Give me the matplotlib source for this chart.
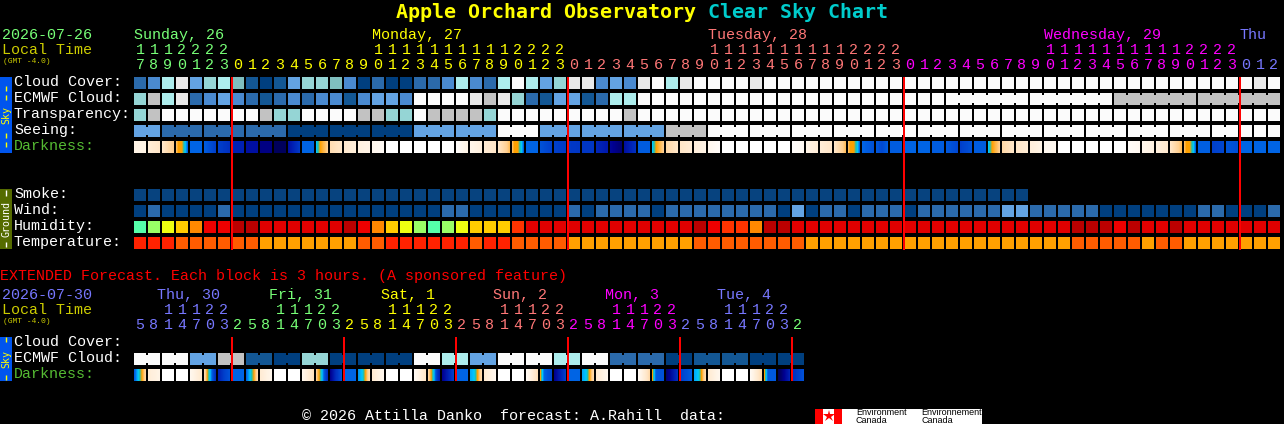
import matplotlib
matplotlib.use("Agg")
import matplotlib.pyplot as plt
from matplotlib.colors import LinearSegmentedColormap
from matplotlib.patches import Rectangle
import numpy as np

# ---------- data ----------
cloud = [2,3,7,9,4,6,7,5,1,0,1,4,6,6,5,3,0,2,0,0,2,2,3,7,3,2,7,10,7,4,6,9,9,3,4,3,9,10,7,9,10,10,10,10,9,
         10,10,10,10,10,10,10,10,10,10,10,10,10,10,10,10,10,10,10,10,10,10,10,10,10,10,10,10,10,10,10,10,10,10,10,9,10]
ecmwf = [6,8,7,9,2,3,4,3,2,1,2,3,2,3,3,1,3,4,4,3,10,10,10,10,9,8,9,6,2,1,4,4,1,2,7,7,10,
         10,10,10,10,10,10,10,10,10,10,10,10,10,10,10,10,10,10,10,10,10,10,10,10,10,10,10,10,10,10,10,10,10,
         8,8,8,8,8,8,8,8,8,8,8,8]
transparency = [6,8,10,10,10,10,10,10,10,8,6,6,10,10,10,10,8,8,6,6,10,8,8,8,8,6,10,10,10,10,10,10,10,10,10,8,
                10,10,10,10,10,10,10,10,10,10,10,10,10,10,10,10,10,10,10,10,10,10,10,10,10,10,10,10,10,10,10,10,10,
                10,10,10,10,10,10,10,10,10,10,10,10,10]
seeing = [4,4,2,2,2,2,2,2,2,2,2,0,0,0,0,0,0,0,0,0,4,4,4,4,4,4,10,10,10,4,4,4,4,4,4,4,4,4,8,8,8,
          10,10,10,10,10,10,10,10,10,10,10,10,10,10,10,10,10,10,10,10,10,10,10,10,10,10,10,10,10,10,10,10,10,10,10,10,10,10,10,10,10]
seeing_groups = [2,3,3,3,3,3,3,3,3,3,3,3,3,3,3,3,3,3,3,3,3,3,3,3,3,3,2]
ecmwf_groups = [1]*58 + [6,6,6,6]
darkness = [(1,1),(1.5,2),(2,3),(3.3,3.8,3.8,3.8,4.5,5.2,6),(6,),(6.2,7),(7,7.5),(8,8),(8.5,),(9.2,),(9.8,),(8.5,7.2),(6,),(5,3.8,3.4,3),(2.4,2),(1.8,1.4),(1.2,1),(.7,.4),
            (0,),(0,),(0,),(0,),(0,),(.2,1),(.8,1.3),(1.6,2),(2,3.3),(3.3,3.8,3.8,3.8,4.5,5,6),(6,),(6.5,7),(7,7.2),(7.2,7.3),(7.3,),(7.8,8.2),(8.8,9.5),(8.5,7.5),(6.2,),
            (5,3.8,3.4,3),(2.6,2),(2,1.6),(1.4,1),(.7,.3),(0,),(0,),(0,),(0,),(0,),(.2,.5),(1,1.5),(1.5,2),(2,3.3),(3.3,3.8,3.8,3.8,4.5,5,6),
            (6,6.5),(6.3,6.8,6.2),(6.2,),(6,),(6,),(6.2,),(6.3,6.8),(7,6.5),(6.2,),(5,3.8,3.4,3),(2.6,2),(2,1.6),(1.4,1),(.6,),
            (0,),(0,),(0,),(0,),(0,),(.3,.6),(.8,1.2),(1.3,1.8),(2,3.3),(3.3,3.8,3.8,3.8,4.5,5,6),(6.1,),(7,6.8),(6.4,6.6),(6,),(6,),(6,)]
smoke = [0]*64
wind = [0,1,0,0,0,0,1,0,0,0,0,0,0,0,0,0,0,0,0,0,0,0,1,1,0,0,0,0,0,0,0,1,0,1,1,1,1,0,1,1,1,1,1,1,1,1,0,2,0,1,1,0,
        1,1,1,0,1,1,1,1,1,1,2,2,1,1,1,1,1,0,0,0,0,0,0,0,1,1,0,0,0,1]
humidity = [0,1,2,3,4,6,6,8,8,7,7,7,7,7,7,8,6,4,3,2,1,0,1,2,3,3,3,5,7,7,7,7,7,7,7,7,7,7,7,7,8,6,5,5,4,8,8,7,7,7,7,7,
            7,7,7,7,7,7,7,7,7,7,7,7,7,7,7,8,8,8,6,8,7,7,8,7,7,7,7,7,7,7]
temperature = [0,0,0,1,1,1,1,1,1,2,2,2,2,2,2,2,1,1,0,0,0,0,0,0,1,0,0,1,1,1,1,2,2,2,2,2,2,2,2,2,1,1,1,1,1,1,1,1,2,2,2,2,
               2,2,2,2,2,2,2,2,2,2,2,2,2,2,2,1,1,1,1,1,2,1,1,2,2,2,2,2,2,2]
ext_ecmwf = [10,10,10,10,4,4,8,8,1,1,0,0,6,6,0,0,0,0,0,0,10,10,7,7,4,4,10,10,10,10,7,7,10,10,2,2,2,2,0,0,1,1,1,1,0,0,0,0]
ext_groups = [2]*24
ext_darkness = [(6.2,5,3.8,2.8),(1.5,1),(0,),(0,),(.7,1.8),(2.5,3.8,5,6.5,7.5),(8,7,6.5),(6,),(6,5,3.8,2.5),(1.6,.8),(0,),(0,),(.8,2.2),(3,3.8,5,6.5,7.5),(9,7.5,6.5),(6,),
                (5.5,5,3.6,2.5),(1.7,.7),(0,),(0,),(.5,2),(2.8,3.8,5,7,8),(9,8,7),(6,),(5.3,5,3.7,2.5),(1.7,.7),(0,),(0,),(.5,2.3),(3.8,6,6.5,6.7),(9,8,7),(6,),
                (5.3,5,3.7,2.5),(1.7,.7),(0,),(0,),(.5,2.5),(3.8,6.3,6.5,6.5),(9.5,8.5,7.5),(7,6.2),(5.3,5,3.7,2.5),(1.7,.7),(0,),(0,),(.5,2.5),(3.8,6.3,6.3,6.3),(10,9,8),(7.5,7,6.5)]

main_tens = ["1","1","1","2","2","2","2"] + ([""]*10 + ["1"]*10 + ["2"]*4)*3 + ["","",""]
main_ones = ["7","8","9","0","1","2","3"] + list("012345678901234567890123")*3 + ["0","1","2"]
ext_tens = ["","","1","1","1","2","2"] + ["","","","1","1","1","2","2"]*5 + [""]
ext_ones = list("5814703") + list("25814703")*5 + ["2"]
day_labels = ["Sunday, 26","Monday, 27","Tuesday, 28","Wednesday, 29","Thu"]
day_cols = [0,17,41,65,79]
ext_day_labels = ["Thu, 30","Fri, 31","Sat, 1","Sun, 2","Mon, 3","Tue, 4"]

# ---------- styles ----------
CLOUD_C = ["#003F7F","#135794","#2B6AAB","#4A8AD0","#63A3E3","#7FBFBF","#95D5D5","#ADEDED","#C2C2C2","#E9E9E9","#FBFBFB"]
HUM_C = ["#55FFAA","#99FF66","#EEFF11","#FFCC00","#FF8800","#FF3300","#EE0000","#E00000","#BB0000"]
TEMP_C = ["#FF2200","#FF5C00","#FFA000"]
GREEN,YEL,PINK,MAG,BLUE = "#77FF77","#FFFF00","#FF7777","#FF00FF","#7777FF"
dark_cmap = LinearSegmentedColormap.from_list("dark",[(0,"#FFFFFF"),(.1,"#FFF4E6"),(.2,"#FFE6C8"),(.3,"#FFCF90"),(.38,"#FFA000"),
    (.45,"#20C0B0"),(.5,"#00C8FF"),(.6,"#0064E4"),(.7,"#0040CC"),(.8,"#0020B4"),(.9,"#000090"),(1,"#000050")])
MONO = "Liberation Mono"
BOLD = "DejaVu Sans Mono"
PX = 72/100

fig = plt.figure(figsize=(12.84,4.24),dpi=100,facecolor="black")
ax = fig.add_axes([0,0,1,1])
ax.set_xlim(0,1284); ax.set_ylim(424,0); ax.axis("off")

X0,P,W,H = 134,14,12,12

def row(vals,colors,top,groups=None):
    x = [X0+P*i for i in range(len(vals))]
    ax.bar(x,[H]*len(vals),width=W,bottom=top,align="edge",color=[colors[v] for v in vals],linewidth=0,zorder=2,antialiased=False)
    if groups:
        pos = 0
        for g in groups:
            for j in range(pos,pos+g-1):
                ax.bar(X0+P*j+W,8,width=P-W,bottom=top+2,align="edge",color=colors[vals[j]],linewidth=0,zorder=2,antialiased=False)
            pos += g

def gradient_row(vals,top):
    for i,v in enumerate(vals):
        band = np.interp(np.linspace(0,1,W),np.linspace(0,1,len(v)),v) if len(v)>1 else np.full(W,v[0])
        ax.imshow(band.reshape(1,-1),cmap=dark_cmap,vmin=0,vmax=10,aspect="auto",
                  extent=(X0+P*i,X0+P*i+W,top+H,top),interpolation="nearest",zorder=2)

def t(x,y,s,c="white",size=15,weight="normal",ha="left",rot=0,va="baseline",fam=MONO):
    if fam == MONO and va == "baseline":
        y = y-1
    ax.text(x,y,s,color=c,fontsize=size*PX,fontweight=weight,ha=ha,va=va,rotation=rot,family=fam,zorder=5)

# title
t(396,18,"Apple Orchard Observatory",YEL,20,"bold",fam=BOLD)
t(708,18,"Clear Sky Chart","#00CCCC",20,"bold",fam=BOLD)

# header
t(2,40,"2026-07-26",GREEN); t(2,55,"Local Time","#CCCC00"); t(3,64,"(GMT -4.0)","#CCCC00",8)
for lab,col,c in zip(day_labels,day_cols,[GREEN,YEL,PINK,MAG,BLUE]):
    t(X0+P*col,40,lab,c)
def col_color(k):
    return [GREEN,YEL,PINK,MAG,BLUE][(k+17)//24]
for k,(a,b) in enumerate(zip(main_tens,main_ones)):
    c = col_color(k)
    if a: t(X0+P*k+6,55,a,c,ha="center")
    t(X0+P*k+6,70,b,c,ha="center")

# sidebars
def side(y0,y1,color,label,tc,dashes):
    ax.add_patch(Rectangle((0,y0),12,y1-y0,color=color,linewidth=0,zorder=2))
    t(6,(y0+y1)/2,label,tc,10,rot=90,ha="center",va="center",fam=BOLD)
    for d in dashes:
        ax.plot([5.5,5.5],d,color=tc,lw=1,solid_capstyle="butt",zorder=5)
side(77,153,"#0055EE","Sky",YEL,[(86,91),(95,100),(133,138),(142,147)])
side(189,249,"#556B00","Ground","white",[(190,196),(242,247)])
side(337,381,"#0055EE","Sky",YEL,[(337,342),(375,380)])

# main rows
for lab,top,c in [("Cloud Cover:",77,"white"),("ECMWF Cloud:",93,"white"),("Transparency:",109,"white"),("Seeing:",125,"white"),
                  ("Darkness:",141,"#55BB33"),("Smoke:",189,"white"),("Wind:",205,"white"),("Humidity:",221,"white"),("Temperature:",237,"white")]:
    t(14,top+10,lab,c)
row(cloud,CLOUD_C,77)
row(ecmwf,CLOUD_C,93,ecmwf_groups)
row(transparency,CLOUD_C,109)
row(seeing,CLOUD_C,125,seeing_groups)
gradient_row(darkness,141)
row(smoke,["#07437F"],189)
row(wind,[CLOUD_C[0],CLOUD_C[2],CLOUD_C[4]],205)
row(humidity,HUM_C,221)
row(temperature,TEMP_C,237)
ax.vlines([232+336*i for i in range(4)],77,250,color="#FF0000",lw=2*PX,zorder=4)

# extended
t(0,281,"EXTENDED Forecast. Each block is 3 hours. (A sponsored feature)","#FF0000")
t(2,300,"2026-07-30",BLUE); t(2,315,"Local Time","#CCCC00"); t(3,324,"(GMT -4.0)","#CCCC00",8)
ext_colors = [BLUE,GREEN,YEL,PINK,MAG,BLUE]
for i,(lab,c) in enumerate(zip(ext_day_labels,ext_colors)):
    t(157+112*i,300,lab,c)
def ext_color(k):
    return ([BLUE]*7+[GREEN]*8+[YEL]*8+[PINK]*8+[MAG]*8+[BLUE]*8+[GREEN])[k]
for k,(a,b) in enumerate(zip(ext_tens,ext_ones)):
    c = ext_color(k)
    if a: t(X0+P*k+6,315,a,c,ha="center")
    t(X0+P*k+6,330,b,c,ha="center")
for lab,top,c in [("Cloud Cover:",337,"white"),("ECMWF Cloud:",353,"white"),("Darkness:",369,"#55BB33")]:
    t(14,top+9.5,lab,c)
row(ext_ecmwf,CLOUD_C,353,ext_groups)
gradient_row(ext_darkness,369)
ax.vlines([232+112*i for i in range(6)],337,381,color="#FF0000",lw=2*PX,zorder=4)

# footer
t(302,421,"\u00a9 2026 Attilla Danko  forecast: A.Rahill  data:")
ax.add_patch(Rectangle((815,409),167,15,color="white",linewidth=0,zorder=2))
ax.add_patch(Rectangle((815,409),8,15,color="#FF0000",linewidth=0,zorder=3))
ax.add_patch(Rectangle((834,409),8,15,color="#FF0000",linewidth=0,zorder=3))
ax.plot([828.5],[416],marker="*",ms=9,color="#FF0000",mew=0,zorder=3)
t(856,415,"Environment","black",9,fam="Liberation Sans")
t(856,423,"Canada","black",9,fam="Liberation Sans")
t(921,415,"Environnement","black",9,fam="Liberation Sans")
t(921,423,"Canada","black",9,fam="Liberation Sans")

ax.set_xlim(0,1284); ax.set_ylim(424,0)
fig.savefig("out.png",dpi=100,facecolor="black")
